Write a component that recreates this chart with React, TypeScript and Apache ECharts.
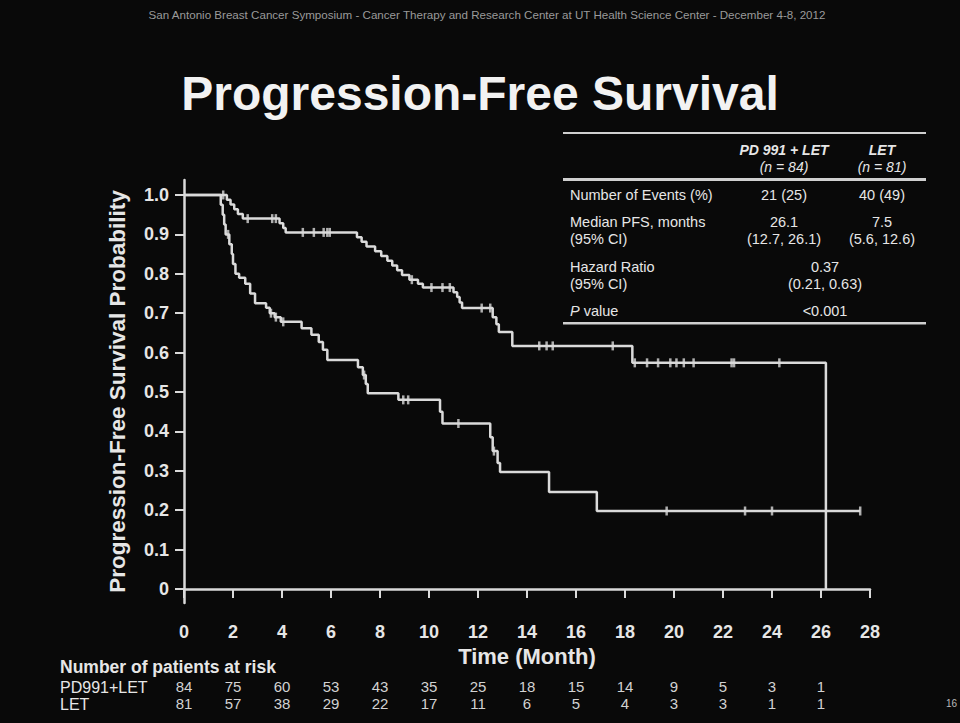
import React, { useEffect, useRef } from 'react';
import * as echarts from 'echarts';

// ---- data ----
const yTickValues = [0, 0.1, 0.2, 0.3, 0.4, 0.5, 0.6, 0.7, 0.8, 0.9, 1.0];
const riskTimes = [0, 2, 4, 6, 8, 10, 12, 14, 16, 18, 20, 22, 24, 26];
const riskPD = [84, 75, 60, 53, 43, 35, 25, 18, 15, 14, 9, 5, 3, 1];
const riskLET = [81, 57, 38, 29, 22, 17, 11, 6, 5, 4, 3, 3, 1, 1];

const pdSteps: [number, number][] = [
  [0, 1.0], [1.75, 0.988], [1.9, 0.976], [2.05, 0.964], [2.2, 0.952], [2.4, 0.94],
  [3.9, 0.928], [4.05, 0.916], [4.15, 0.905],
  [7.06, 0.893], [7.25, 0.881], [7.45, 0.869], [7.8, 0.857], [8.05, 0.845], [8.3, 0.833],
  [8.5, 0.821], [8.7, 0.809], [8.9, 0.797], [9.2, 0.785], [9.55, 0.775], [9.75, 0.765],
  [11.0, 0.753], [11.15, 0.741], [11.25, 0.727], [11.35, 0.713],
  [12.6, 0.69], [12.75, 0.672], [12.85, 0.652], [13.4, 0.617],
  [18.3, 0.574], [26.2, 0.0],
];
const pdCensor: [number, number][] = [
  [1.6, 1.0], [2.6, 0.94], [3.6, 0.94], [3.75, 0.94],
  [4.85, 0.905], [5.3, 0.905], [5.7, 0.905], [5.85, 0.905], [5.95, 0.905],
  [9.3, 0.785], [10.1, 0.765], [10.55, 0.765], [10.85, 0.765],
  [12.15, 0.713], [12.5, 0.713],
  [14.5, 0.617], [14.8, 0.617], [15.05, 0.617], [17.5, 0.617],
  [18.4, 0.574], [18.9, 0.574], [19.35, 0.574], [19.85, 0.574], [20.1, 0.574],
  [20.4, 0.574], [20.8, 0.574], [22.35, 0.574], [22.45, 0.574], [24.3, 0.574],
];
const letSteps: [number, number][] = [
  [0, 1.0], [1.5, 0.975], [1.58, 0.95], [1.64, 0.925], [1.7, 0.9],
  [1.85, 0.875], [1.95, 0.85], [2.0, 0.825], [2.1, 0.8], [2.25, 0.79], [2.5, 0.775],
  [2.7, 0.75], [2.9, 0.725], [3.35, 0.714], [3.5, 0.7], [3.7, 0.69], [3.95, 0.678],
  [4.8, 0.662], [5.2, 0.645], [5.5, 0.627], [5.67, 0.607], [5.85, 0.581],
  [7.1, 0.563], [7.3, 0.543], [7.42, 0.52], [7.5, 0.497],
  [8.75, 0.48], [10.45, 0.45], [10.55, 0.42],
  [12.5, 0.385], [12.6, 0.35], [12.8, 0.32], [12.9, 0.297],
  [14.9, 0.246], [16.85, 0.198], [27.6, 0.198],
];
const letCensor: [number, number][] = [
  [1.8, 0.9], [3.55, 0.7], [3.75, 0.69], [4.05, 0.678], [7.35, 0.543],
  [8.95, 0.48], [9.15, 0.48], [11.2, 0.42], [12.65, 0.35],
  [19.7, 0.198], [22.9, 0.198], [24.0, 0.198], [27.6, 0.198],
];

const headerText =
  'San Antonio Breast Cancer Symposium - Cancer Therapy and Research Center at UT Health Science Center - December 4-8, 2012';
const titleText = 'Progression-Free Survival';
const tableHeaders = [
  ['PD 991 + LET', '(n = 84)'],
  ['LET', '(n = 81)'],
];
const tableRowLabels = [
  ['Number of Events (%)'],
  ['Median PFS, months', '(95% CI)'],
  ['Hazard Ratio', '(95% CI)'],
  ['{i|P} value'],
];
const tableCol1 = [['21 (25)'], ['26.1', '(12.7, 26.1)']];
const tableCol2 = [['40 (49)'], ['7.5', '(5.6, 12.6)']];
const tableMerged = [['0.37', '(0.21, 0.63)'], ['<0.001']];

const FONT = '"Liberation Sans", Arial, Helvetica, sans-serif';
const FG = '#e6e6e6';
const LINE = '#dadada';

function txt(text: string, x: number, y: number, font: string, align = 'left', fill = FG, extra: any = {}) {
  return {
    type: 'text',
    x,
    y,
    silent: true,
    style: { text, fill, font, textAlign: align, textVerticalAlign: 'middle', ...extra },
  };
}

export default function App() {
  const ref = useRef<HTMLDivElement>(null);
  useEffect(() => {
    document.body.style.margin = '0';
    const chart = echarts.init(ref.current!, null, { renderer: 'svg' });

    const graphics: any[] = [];
    graphics.push(txt(headerText, 487, 14, `11.6px ${FONT}`, 'center', '#9a9a9a'));
    graphics.push(txt(titleText, 480, 93, `bold 48px ${FONT}`, 'center', '#f2f2f2'));
    // table rules
    graphics.push({ type: 'rect', shape: { x: 563, y: 132, width: 363, height: 2 }, style: { fill: '#cfcfcf' } });
    graphics.push({ type: 'rect', shape: { x: 563, y: 178, width: 363, height: 3 }, style: { fill: '#cfcfcf' } });
    graphics.push({ type: 'rect', shape: { x: 563, y: 322, width: 363, height: 2.5 }, style: { fill: '#cfcfcf' } });
    const tf = `14.5px ${FONT}`;
    const c1 = 784, c2 = 882, cm = 825, lx = 570;
    graphics.push(txt(tableHeaders[0][0], c1, 150, `italic bold 14px ${FONT}`, 'center'));
    graphics.push(txt(tableHeaders[0][1], c1, 167, `italic 14px ${FONT}`, 'center'));
    graphics.push(txt(tableHeaders[1][0], c2, 150, `italic bold 14px ${FONT}`, 'center'));
    graphics.push(txt(tableHeaders[1][1], c2, 167, `italic 14px ${FONT}`, 'center'));
    const rowY = [[195], [222, 239], [267, 284], [311]];
    tableRowLabels.forEach((lines, i) =>
      lines.forEach((l, j) =>
        graphics.push(
          txt(l, lx, rowY[i][j], tf, 'left', FG, {
            rich: { i: { fontStyle: 'italic', fontSize: 14.5, fontFamily: FONT, fill: FG } },
          })
        )
      )
    );
    tableCol1.forEach((lines, i) => lines.forEach((l, j) => graphics.push(txt(l, c1, rowY[i][j], tf, 'center'))));
    tableCol2.forEach((lines, i) => lines.forEach((l, j) => graphics.push(txt(l, c2, rowY[i][j], tf, 'center'))));
    tableMerged.forEach((lines, i) => lines.forEach((l, j) => graphics.push(txt(l, cm, rowY[i + 2][j], tf, 'center'))));
    // risk table labels
    graphics.push(txt('Number of patients at risk', 60, 667, `bold 17.5px ${FONT}`, 'left', FG));
    graphics.push(txt('PD991+LET', 60, 687, `16px ${FONT}`, 'left', FG));
    graphics.push(txt('LET', 60, 704, `16px ${FONT}`, 'left', FG));
    graphics.push(txt('16', 946, 703, `10px ${FONT}`, 'left', '#bbbbbb'));

    const riskAxis = (vals: number[], offset: number) => ({
      type: 'value',
      min: 0,
      max: 28,
      interval: 2,
      position: 'bottom',
      offset,
      axisLine: { show: false },
      axisTick: { show: false },
      splitLine: { show: false },
      axisLabel: {
        color: '#d2d2d2',
        fontFamily: FONT,
        fontSize: 15,
        margin: 8,
        formatter: (v: number) => {
          const idx = riskTimes.indexOf(v);
          return idx >= 0 ? String(vals[idx]) : '';
        },
      },
    });

    const option: any = {
      animation: false,
      backgroundColor: '#090909',
      grid: { left: 184, right: 90, top: 180, bottom: 120, containLabel: false },
      xAxis: [
        {
          type: 'value',
          min: 0,
          max: 28,
          interval: 2,
          axisLine: { show: true, lineStyle: { color: LINE, width: 2.5 } },
          axisTick: { show: true, length: 9, lineStyle: { color: LINE, width: 2 } },
          axisLabel: { color: FG, fontFamily: FONT, fontSize: 18, fontWeight: 'bold', margin: 20 },
          splitLine: { show: false },
          name: 'Time (Month)',
          nameLocation: 'middle',
          nameGap: 41,
          nameTextStyle: { color: FG, fontFamily: FONT, fontSize: 22, fontWeight: 'bold' },
        },
        riskAxis(riskPD, 68),
        riskAxis(riskLET, 85),
      ],
      yAxis: {
        type: 'value',
        min: -0.0355,
        max: 1.038,
        axisLine: { show: true, lineStyle: { color: LINE, width: 2.5 } },
        axisTick: { show: true, length: 9, customValues: yTickValues, lineStyle: { color: LINE, width: 2 } },
        axisLabel: {
          customValues: yTickValues,
          color: FG,
          fontFamily: FONT,
          fontSize: 18,
          fontWeight: 'bold',
          margin: 15,
          formatter: (v: number) => (Math.abs(v) < 1e-9 ? '0' : v.toFixed(1)),
        },
        splitLine: { show: false },
        name: 'Progression-Free Survival Probability',
        nameLocation: 'middle',
        nameGap: 55,
        nameTextStyle: { color: FG, fontFamily: FONT, fontSize: 22.5, fontWeight: 'bold', padding: [0, 0, 0, 0] },
      },
      series: [
        {
          type: 'line',
          name: 'PD991+LET',
          step: 'end',
          data: pdSteps,
          showSymbol: false,
          symbol: 'none',
          lineStyle: { color: LINE, width: 2.5 },
          xAxisIndex: 0,
        },
        {
          type: 'line',
          name: 'LET',
          step: 'end',
          data: letSteps,
          showSymbol: false,
          symbol: 'none',
          lineStyle: { color: LINE, width: 2.5 },
          xAxisIndex: 0,
        },
        {
          type: 'scatter',
          data: pdCensor,
          symbol: 'rect',
          symbolSize: [2.5, 9],
          itemStyle: { color: LINE },
          xAxisIndex: 0,
        },
        {
          type: 'scatter',
          data: letCensor,
          symbol: 'rect',
          symbolSize: [2.5, 9],
          itemStyle: { color: LINE },
          xAxisIndex: 0,
        },
      ],
      graphic: graphics,
    };
    chart.setOption(option);
    return () => chart.dispose();
  }, []);
  return <div ref={ref} style={{ width: 960, height: 723, background: '#090909' }} />;
}
